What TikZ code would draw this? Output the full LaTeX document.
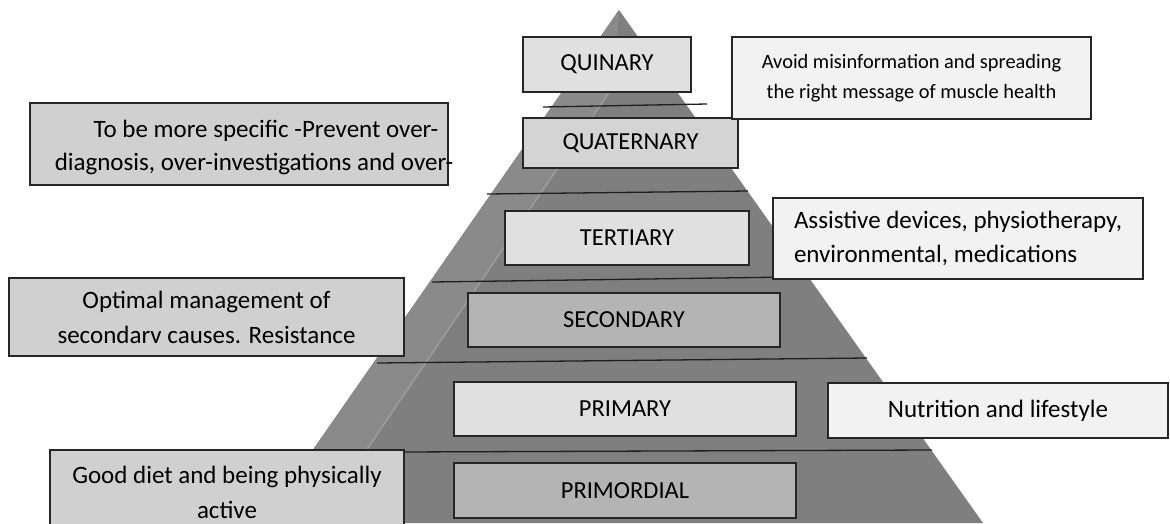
\documentclass[tikz,border=0pt]{standalone}
\usepackage{fontspec}
\setmainfont{Carlito}
\begin{document}
\begin{tikzpicture}[x=1pt,y=-1pt,
  lvl/.style={draw=black!85, line width=1.2pt, inner sep=0pt, font=\fontsize{24.5}{30}\selectfont},
  sidegray/.style={draw=black!85, line width=1.2pt, fill=sideg, inner sep=0pt, align=center},
  sidelight/.style={draw=black!85, line width=1.2pt, fill=sidel, inner sep=0pt, align=center},
  divider/.style={draw=black!88, line width=1.3pt}
]
\definecolor{pyr}{HTML}{7F7F7F}
\definecolor{pyrleft}{HTML}{8A8A8A}
\definecolor{streak}{HTML}{9C9C9C}
\definecolor{lvllight}{HTML}{E0E0E0}
\definecolor{lvlmid}{HTML}{D4D4D4}
\definecolor{lvldark}{HTML}{B4B4B4}
\definecolor{sideg}{HTML}{D0D0D0}
\definecolor{sidel}{HTML}{F2F2F2}
\useasboundingbox (0,0) rectangle (1170,523);
\begin{scope}
\clip (0,0) rectangle (1170,523);
% pyramid
\coordinate (apex) at (619,10);
\coordinate (bl) at (262,523);
\coordinate (br) at (983,523);
\coordinate (stop) at (614,85);
\coordinate (sbot) at (317,523);
\fill[pyr] (apex) -- (br) -- (bl) -- cycle;
\fill[pyrleft] (apex) -- (bl) -- (sbot) -- (stop) -- cycle;
\draw[streak, line width=1.6pt] (stop) -- (sbot);
% dividers
\coordinate (d1a) at (543,107); \coordinate (d1b) at (707,104);
\coordinate (d2a) at (487,194); \coordinate (d2b) at (748,191);
\coordinate (d3a) at (432,282); \coordinate (d3b) at (790,277);
\coordinate (d4a) at (377,363); \coordinate (d4b) at (867,358);
\coordinate (d5a) at (398,452); \coordinate (d5b) at (932,450);
\draw[divider] (d1a) -- (d1b);
\draw[divider] (d2a) -- (d2b);
\draw[divider] (d3a) -- (d3b);
\draw[divider] (d4a) -- (d4b);
\draw[divider] (d5a) -- (d5b);
% level boxes
\node[lvl, fill=lvllight, minimum width=168pt, minimum height=55pt] (quinary) at (607,64.5) {QUINARY};
\node[lvl, fill=lvlmid, minimum width=215pt, minimum height=50pt] (quaternary) at (630.5,143) {QUATERNARY};
\node[lvl, fill=lvllight, minimum width=244pt, minimum height=54pt] (tertiary) at (627,238) {TERTIARY};
\node[lvl, fill=lvldark, minimum width=312pt, minimum height=54pt] (secondary) at (624,320) {SECONDARY};
\node[lvl, fill=lvllight, minimum width=342pt, minimum height=54pt] (primary) at (625,409) {PRIMARY};
\node[lvl, fill=lvldark, minimum width=342pt, minimum height=55pt] (primordial) at (625,490.5) {PRIMORDIAL};
% side boxes
\node[sidegray, minimum width=418pt, minimum height=82pt] (spec) at (239,144) {};
\node[inner sep=0pt, align=center, font=\fontsize{25}{33}\selectfont] (spectext) at (254,147)
  {\hspace*{24pt}To be more specific -Prevent over-\\diagnosis, over-investigations and over-};
\node[sidegray, minimum width=395pt, minimum height=78pt, font=\fontsize{25}{35}\selectfont] (optimal) at (206.5,317)
  {Optimal management of\\secondarv causes. Resistance};
\node[sidegray, minimum width=354pt, minimum height=84pt, font=\fontsize{25}{35}\selectfont] (gooddiet) at (227,492)
  {Good diet and being physically\\active};
\node[sidelight, minimum width=359pt, minimum height=82pt, font=\fontsize{20.4}{30}\selectfont] (avoid) at (911.5,78)
  {Avoid misinformation and spreading\\the right message of muscle health};
\node[sidelight, minimum width=370pt, minimum height=81pt, align=left, font=\fontsize{25}{34}\selectfont] (assist) at (958,238.5)
  {Assistive devices, physiotherapy,\\environmental, medications};
\node[sidelight, minimum width=340pt, minimum height=55pt, font=\fontsize{25}{30}\selectfont] (nutrition) at (998,410.5)
  {Nutrition and lifestyle};
\end{scope}
\end{tikzpicture}
\end{document}
